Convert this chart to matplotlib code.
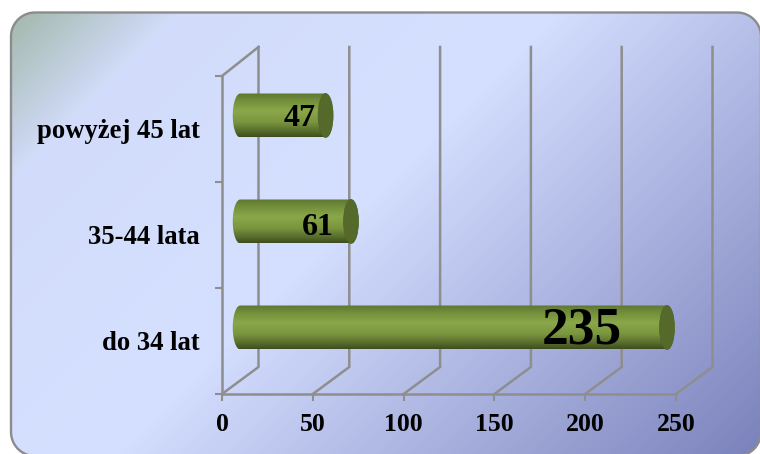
import numpy as np
import matplotlib
matplotlib.use("Agg")
import matplotlib.pyplot as plt
from matplotlib.colors import LinearSegmentedColormap
from matplotlib.patches import Ellipse, Polygon

categories = ["do 34 lat", "35-44 lata", "powyżej 45 lat"]
values = [235, 61, 47]
x_ticks = [0, 50, 100, 150, 200, 250]
label_sizes = [38.5, 23, 23]
label_shift_px = [-67, -15, -8]
label_rise_px = [-3, -6, -3]

W, H = 760, 454
GRID = "#8e8e8e"
plt.rcParams["font.family"] = ["Liberation Serif", "DejaVu Serif"]
fig = plt.figure(figsize=(W / 100, H / 100), dpi=100, facecolor="white")

# background panel (pixel coordinates)
bg = fig.add_axes([0, 0, 1, 1])
bg.set_xlim(0, W)
bg.set_ylim(H, 0)
bg.axis("off")
yy, xx = np.mgrid[0:H, 0:W]
stops = [(0.0, "#9cb3a0"), (190 / 1214, "#d2dcfa"), (560 / 1214, "#d5dfff"), (1.0, "#7b82bc")]
bg_cmap = LinearSegmentedColormap.from_list("panel", stops)
img = bg.imshow((xx + yy) / 1214, cmap=bg_cmap, vmin=0, vmax=1, extent=(0, W, H, 0), aspect="auto", zorder=1)


def rounded_outline(x0, y0, x1, y1, r):
    pts = []
    corners = [(x0 + r, y0 + r, 180), (x1 - r, y0 + r, 270), (x1 - r, y1 - r, 0), (x0 + r, y1 - r, 90)]
    for cx, cy, start in corners:
        a = np.radians(np.linspace(start, start + 90, 16))
        pts.append(np.c_[cx + r * np.cos(a), cy + r * np.sin(a)])
    return np.vstack(pts)


panel = Polygon(rounded_outline(11, 12.5, 761, 456, 24), closed=True, fc="none", ec="#8c8c8c", lw=1.7, zorder=2)
bg.add_patch(panel)
img.set_clip_path(panel)

# chart axes
L, R, T, B = 222, 676, 76, 394
ax = fig.add_axes([L / W, 1 - B / H, (R - L) / W, (B - T) / H])
ax.patch.set_alpha(0)
ax.set_xlim(0, 250)
ax.set_ylim(0, 3)
px_x = 250 / (R - L)
px_y = 3 / (B - T)
dx, dy = 36.5 * px_x, 27 * px_y

for s in ("top", "right"):
    ax.spines[s].set_visible(False)
for s in ("left", "bottom"):
    ax.spines[s].set_color(GRID)
    ax.spines[s].set_linewidth(1.8)

ax.set_xticks(x_ticks)
ax.set_yticks(range(4))
ax.set_yticklabels([])
ax.set_yticks(np.arange(len(categories)) + 0.5, labels=categories, minor=True)
ax.tick_params(axis="both", which="major", color=GRID, width=1.5, length=5)
ax.tick_params(axis="x", labelsize=18.5, pad=9)
ax.tick_params(axis="y", which="minor", length=0, labelsize=19.2, pad=16)
for t in ax.get_xticklabels() + ax.get_yticklabels(minor=True):
    t.set_fontweight("bold")

# back wall gridlines and floor diagonals
top_back = 3 + 29 * px_y
for v in x_ticks:
    ax.plot([v, v + dx, v + dx], [0, dy, top_back], color=GRID, lw=1.8, clip_on=False, zorder=1,
            solid_joinstyle="miter")
ax.plot([0, dx], [3, top_back], color=GRID, lw=1.8, clip_on=False, zorder=1)

# cylinders
body_cmap = LinearSegmentedColormap.from_list(
    "body", [(0, "#5f7531"), (0.14, "#6f8b3a"), (0.40, "#8aa84a"), (0.66, "#7a963f"),
             (0.88, "#55692b"), (1, "#3e4d1f")])
half_h = 22 * px_y
cap_w = 15 * px_x
grad = np.linspace(0, 1, 128)[:, None]
for i, v in enumerate(values):
    yc = i + 0.5 + dy / 2
    x0, x1 = dx / 2, v + dx / 2
    th_l = np.linspace(np.pi / 2, 3 * np.pi / 2, 40)
    th_r = np.linspace(-np.pi / 2, np.pi / 2, 40)
    left = np.c_[x0 + cap_w / 2 * np.cos(th_l), yc + half_h * np.sin(th_l)]
    right = np.c_[x1 + cap_w / 2 * np.cos(th_r), yc + half_h * np.sin(th_r)]
    shape = Polygon(np.r_[left, right], closed=True, transform=ax.transData, fc="none", ec="none")
    ax.add_patch(shape)
    im = ax.imshow(grad, cmap=body_cmap, vmin=0, vmax=1, aspect="auto", zorder=3,
                   extent=(x0 - cap_w, x1 + cap_w, yc - half_h, yc + half_h), origin="upper")
    im.set_clip_path(shape)
    ax.add_patch(Ellipse((x1, yc), cap_w, 2 * half_h, fc="#556a2a", ec="#4f6327", lw=0.5, zorder=4))
    ax.annotate(str(v), xy=(v, yc), xytext=(label_shift_px[i] * 0.72, label_rise_px[i] * 0.72),
                textcoords="offset points", ha="center", va="center", fontsize=label_sizes[i],
                fontweight="bold", color="black", zorder=5, annotation_clip=False)
ax.set_xlim(0, 250)
ax.set_ylim(0, 3)

fig.savefig("out.png", dpi=100)
